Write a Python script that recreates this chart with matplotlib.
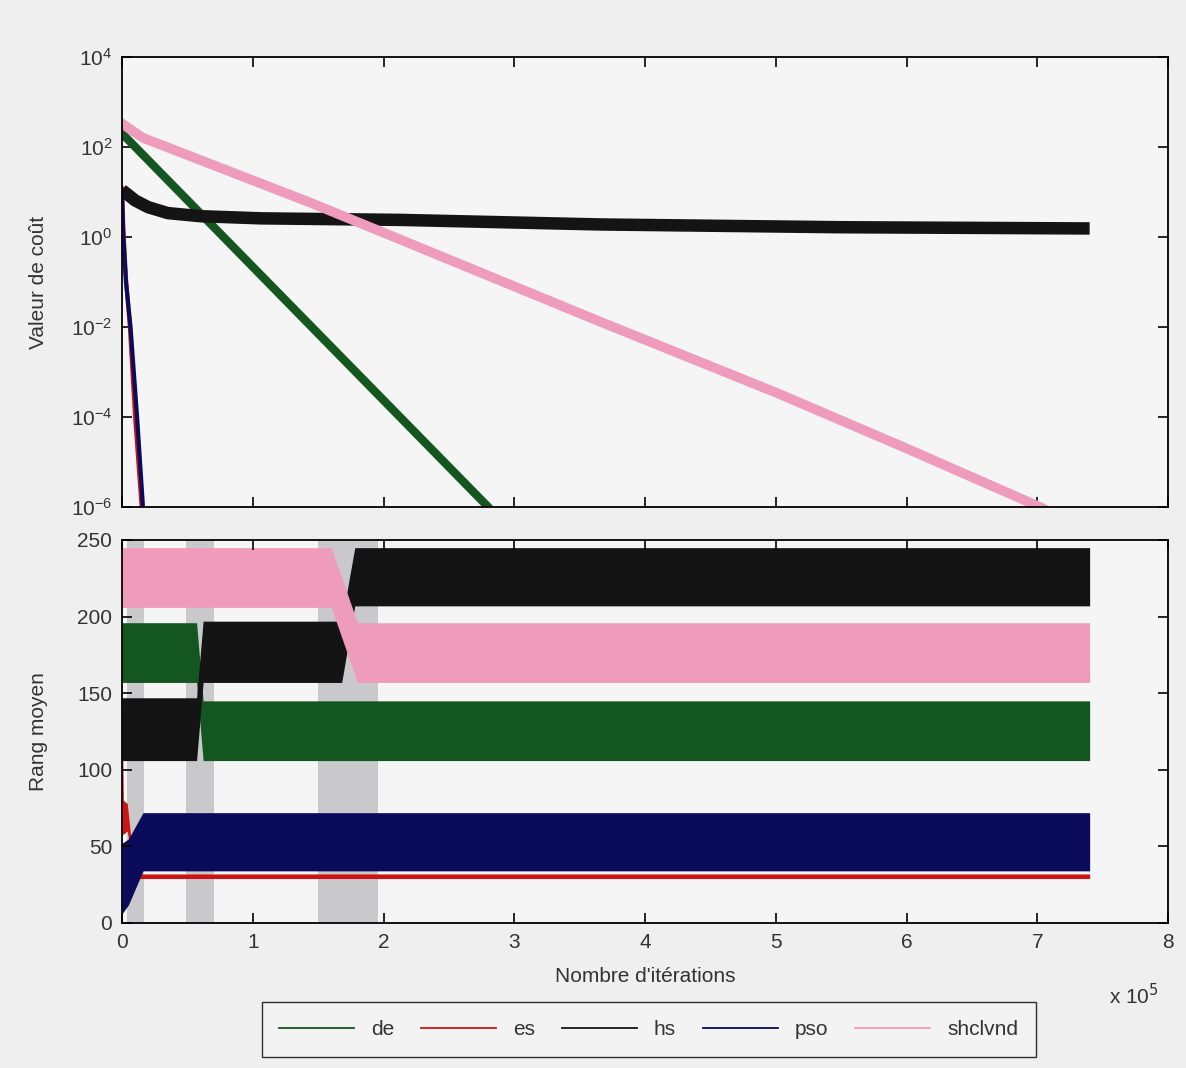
import numpy as np
import matplotlib.pyplot as plt
from matplotlib.lines import Line2D

plt.rcParams['font.family'] = ['Liberation Sans', 'DejaVu Sans']

names = ['de', 'es', 'hs', 'pso', 'shclvnd']
colors = ['#13561f', '#cc1414', '#141414', '#0b0b5c', '#ef9bbb']

# top panel: cost value (x in units of 1e5 iterations)
de_x = [0, 2.8, 3.0]
de_y = [2.0e2, 1.0e-6, 2.0e-7]
es_x = [0, 0.01, 0.03, 0.06, 0.10, 0.15, 0.17]
es_y = [12, 1.5, 0.12, 1e-2, 1e-4, 1e-6, 1e-7]
hs_x = [0, 0.05, 0.1, 0.2, 0.35, 0.6, 1.06, 2.13, 3.66, 5.5, 7.4]
hs_y = [11, 8.5, 6.5, 4.6, 3.4, 2.9, 2.6, 2.4, 1.9, 1.65, 1.55]
pso_x = [0, 0.01, 0.03, 0.065, 0.115, 0.16, 0.18]
pso_y = [8, 1.0, 0.1, 1e-2, 1e-4, 1e-6, 1e-7]
sh_x = [0, 0.16, 1.44, 2.0, 3.66, 5.0, 6.0, 7.02, 7.3]
sh_y = [3.3e2, 1.6e2, 5.8, 1.25, 1.3e-2, 3.5e-4, 2.0e-5, 1.0e-6, 4e-7]

# bottom panel: mean rank bands (lower / upper edge)
de_bx = [0, 0.57, 0.62, 7.4]
de_lo = [157, 157, 106, 106]
de_hi = [196, 196, 145, 145]
es_bx = [0, 0.01, 0.04, 0.08, 0.12, 7.4]
es_lo = [58, 58, 60, 38, 29, 29]
es_hi = [150, 80, 78, 45, 32, 32]
hs_bx = [0, 0.57, 0.62, 1.68, 1.78, 7.4]
hs_lo = [106, 106, 157, 157, 207, 207]
hs_hi = [147, 147, 197, 197, 245, 245]
pso_bx = [0, 0.05, 0.16, 7.4]
pso_lo = [6, 12, 34, 34]
pso_hi = [52, 55, 72, 72]
sh_bx = [0, 1.6, 1.8, 7.4]
sh_lo = [206, 206, 157, 157]
sh_hi = [245, 245, 196, 196]

gray_bands = [(0.04, 0.17), (0.49, 0.70), (1.50, 1.96)]

fig = plt.figure(figsize=(11.86, 10.68), dpi=100, facecolor='#efefef')
ax1 = fig.add_axes([0.1029, 0.5253, 0.882, 0.4213], facecolor='#f5f5f5')
ax2 = fig.add_axes([0.1029, 0.1358, 0.882, 0.3586], facecolor='#f5f5f5')

ax1.plot(de_x, de_y, color=colors[0], lw=6)
ax1.plot(es_x, es_y, color=colors[1], lw=3)
ax1.plot(hs_x, hs_y, color=colors[2], lw=9, solid_capstyle='butt')
ax1.plot(pso_x, pso_y, color=colors[3], lw=3)
ax1.plot(sh_x, sh_y, color=colors[4], lw=7)
ax1.set_yscale('log')
ax1.set_ylim(1e-6, 1e4)
ax1.set_yticks([1e-6, 1e-4, 1e-2, 1e0, 1e2, 1e4])
ax1.minorticks_off()
ax1.set_xlim(0, 8)
ax1.set_xticks(range(9))
ax1.set_xticklabels([])
ax1.set_ylabel('Valeur de coût', fontsize=15, color='#333333')
ax1.yaxis.set_label_coords(-0.071, 0.5)

for a, b in gray_bands:
    ax2.axvspan(a, b, color='#c9c9cc', lw=0)
ax2.fill_between(de_bx, de_lo, de_hi, color=colors[0], lw=0)
ax2.fill_between(es_bx, es_lo, es_hi, color=colors[1], lw=0)
ax2.fill_between(hs_bx, hs_lo, hs_hi, color=colors[2], lw=0)
ax2.fill_between(pso_bx, pso_lo, pso_hi, color=colors[3], lw=0)
ax2.fill_between(sh_bx, sh_lo, sh_hi, color=colors[4], lw=0)
ax2.set_xlim(0, 8)
ax2.set_ylim(0, 250)
ax2.set_xticks(range(9))
ax2.set_yticks(range(0, 251, 50))
ax2.set_ylabel('Rang moyen', fontsize=15, color='#333333')
ax2.yaxis.set_label_coords(-0.071, 0.5)
ax2.set_xlabel("Nombre d'itérations", fontsize=15, color='#333333')
ax2.xaxis.set_label_coords(0.5, -0.115)

for ax in (ax1, ax2):
    ax.tick_params(direction='in', top=True, right=True, length=7, width=1.2,
                   labelsize=15, pad=7, labelcolor='#333333')
    for s in ax.spines.values():
        s.set_linewidth(1.3)

fig.text(0.935, 0.06, r'x 10$^5$', fontsize=15, color='#333333')

handles = [Line2D([], [], color=c, lw=1.3) for c in colors]
fig.legend(handles, names, loc='center', bbox_to_anchor=(0.547, 0.036),
           ncol=5, fontsize=15, frameon=True, fancybox=False,
           edgecolor='black', facecolor='#f5f5f5', handlelength=3.6,
           columnspacing=1.3, borderpad=0.85, labelcolor='#333333')

fig.savefig('out.png', dpi=100, facecolor=fig.get_facecolor())
